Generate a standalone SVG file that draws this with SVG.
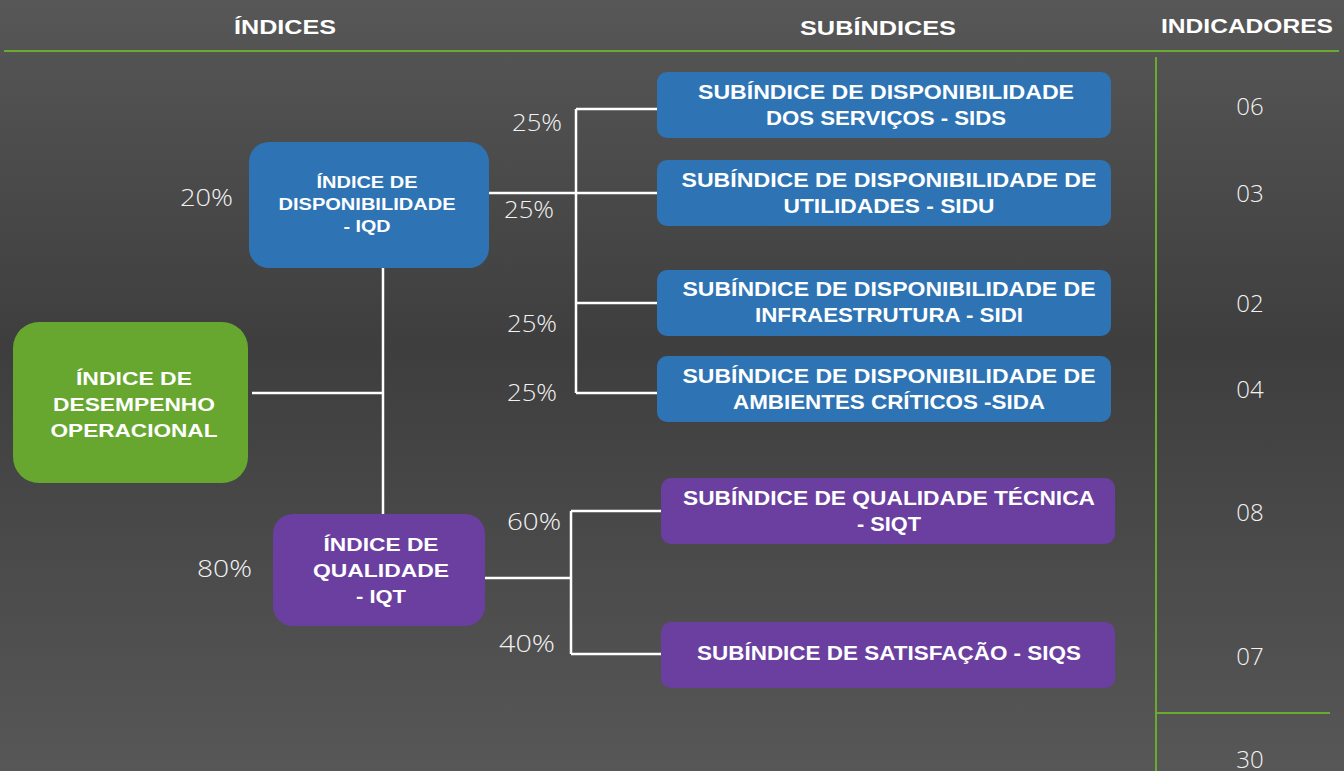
<svg xmlns="http://www.w3.org/2000/svg" width="1344" height="771" viewBox="0 0 1344 771">
<defs>
<linearGradient id="bg" x1="0" y1="0" x2="0" y2="1">
<stop offset="0" stop-color="#575757"/>
<stop offset="0.45" stop-color="#3e3e3e"/>
<stop offset="1" stop-color="#575757"/>
</linearGradient>
<style>
.hdr{font-family:"Liberation Sans",Arial,sans-serif;font-weight:bold;font-size:21px;fill:#ffffff;text-anchor:middle}
.bt{font-family:"Liberation Sans",Arial,sans-serif;font-weight:bold;fill:#ffffff;text-anchor:middle}
.pct{font-family:"Open Sans","Liberation Sans",sans-serif;font-weight:300;font-size:23px;fill:#f2f2f2}
.num{font-family:"Open Sans","Liberation Sans",sans-serif;font-weight:300;font-size:24px;fill:#f2f2f2;text-anchor:middle}
.blue{fill:#2e74b5}
.purple{fill:#6b3fa0}
.green{fill:#67a72f}
.conn{stroke:#ffffff;stroke-width:2.5;fill:none}
.gl{stroke:#6aab2f;stroke-width:2;fill:none}
</style>
</defs>
<rect x="0" y="0" width="1344" height="771" fill="url(#bg)"/>

<g id="headers">
<text class="hdr" x="285" y="34" textLength="102" lengthAdjust="spacingAndGlyphs">ÍNDICES</text>
<text class="hdr" x="878" y="35" textLength="156" lengthAdjust="spacingAndGlyphs">SUBÍNDICES</text>
<text class="hdr" x="1247" y="33" textLength="172" lengthAdjust="spacingAndGlyphs">INDICADORES</text>
</g>

<g id="grid">
<line class="gl" x1="4" y1="51" x2="1339" y2="51"/>
<line class="gl" x1="1156" y1="57" x2="1156" y2="771"/>
<line class="gl" x1="1156" y1="713" x2="1330" y2="713"/>
</g>

<g id="connectors">
<polyline class="conn" points="252,393 383,393"/>
<line class="conn" x1="383" y1="268" x2="383" y2="514"/>
<line class="conn" x1="489" y1="193" x2="657" y2="193"/>
<line class="conn" x1="576" y1="109" x2="576" y2="393"/>
<line class="conn" x1="576" y1="109" x2="657" y2="109"/>
<line class="conn" x1="576" y1="303" x2="657" y2="303"/>
<line class="conn" x1="576" y1="393" x2="657" y2="393"/>
<line class="conn" x1="485" y1="578" x2="571" y2="578"/>
<line class="conn" x1="571" y1="511" x2="571" y2="654"/>
<line class="conn" x1="571" y1="511" x2="661" y2="511"/>
<line class="conn" x1="571" y1="654" x2="661" y2="654"/>
</g>

<g id="percentages">
<text class="pct" x="180" y="206" textLength="53" lengthAdjust="spacingAndGlyphs">20%</text>
<text class="pct" x="197" y="577" textLength="55" lengthAdjust="spacingAndGlyphs">80%</text>
<text class="pct" x="512" y="131" textLength="50" lengthAdjust="spacingAndGlyphs">25%</text>
<text class="pct" x="504" y="218" textLength="50" lengthAdjust="spacingAndGlyphs">25%</text>
<text class="pct" x="507" y="332" textLength="50" lengthAdjust="spacingAndGlyphs">25%</text>
<text class="pct" x="507" y="401" textLength="50" lengthAdjust="spacingAndGlyphs">25%</text>
<text class="pct" x="507" y="530" textLength="54" lengthAdjust="spacingAndGlyphs">60%</text>
<text class="pct" x="499" y="652" textLength="56" lengthAdjust="spacingAndGlyphs">40%</text>
</g>

<g id="ido">
<rect class="green" x="13" y="322" width="235" height="161" rx="26"/>
<text class="bt" font-size="19" x="134" y="385" textLength="116" lengthAdjust="spacingAndGlyphs">ÍNDICE DE</text>
<text class="bt" font-size="19" x="134" y="411" textLength="162" lengthAdjust="spacingAndGlyphs">DESEMPENHO</text>
<text class="bt" font-size="19" x="134" y="437" textLength="167" lengthAdjust="spacingAndGlyphs">OPERACIONAL</text>
</g>

<g id="iqd">
<rect class="blue" x="249" y="142" width="240" height="126" rx="20"/>
<text class="bt" font-size="16" x="367" y="188" textLength="101" lengthAdjust="spacingAndGlyphs">ÍNDICE DE</text>
<text class="bt" font-size="16" x="367" y="210" textLength="177" lengthAdjust="spacingAndGlyphs">DISPONIBILIDADE</text>
<text class="bt" font-size="16" x="367" y="232" textLength="47" lengthAdjust="spacingAndGlyphs">- IQD</text>
</g>

<g id="iqt">
<rect class="purple" x="273" y="514" width="212" height="112" rx="20"/>
<text class="bt" font-size="19" x="381" y="551" textLength="115" lengthAdjust="spacingAndGlyphs">ÍNDICE DE</text>
<text class="bt" font-size="19" x="381" y="577" textLength="136" lengthAdjust="spacingAndGlyphs">QUALIDADE</text>
<text class="bt" font-size="19" x="381" y="603" textLength="50" lengthAdjust="spacingAndGlyphs">- IQT</text>
</g>

<g id="sids">
<rect class="blue" x="657" y="72" width="454" height="66" rx="10"/>
<text class="bt" font-size="20" x="886" y="99" textLength="376" lengthAdjust="spacingAndGlyphs">SUBÍNDICE DE DISPONIBILIDADE</text>
<text class="bt" font-size="20" x="886" y="125" textLength="240" lengthAdjust="spacingAndGlyphs">DOS SERVIÇOS - SIDS</text>
</g>

<g id="sidu">
<rect class="blue" x="657" y="160" width="454" height="66" rx="10"/>
<text class="bt" font-size="20" x="889" y="187" textLength="415" lengthAdjust="spacingAndGlyphs">SUBÍNDICE DE DISPONIBILIDADE DE</text>
<text class="bt" font-size="20" x="889" y="213" textLength="211" lengthAdjust="spacingAndGlyphs">UTILIDADES - SIDU</text>
</g>

<g id="sidi">
<rect class="blue" x="657" y="270" width="454" height="66" rx="10"/>
<text class="bt" font-size="20" x="889" y="296" textLength="413" lengthAdjust="spacingAndGlyphs">SUBÍNDICE DE DISPONIBILIDADE DE</text>
<text class="bt" font-size="20" x="889" y="322" textLength="268" lengthAdjust="spacingAndGlyphs">INFRAESTRUTURA - SIDI</text>
</g>

<g id="sida">
<rect class="blue" x="657" y="356" width="454" height="66" rx="10"/>
<text class="bt" font-size="20" x="889" y="383" textLength="413" lengthAdjust="spacingAndGlyphs">SUBÍNDICE DE DISPONIBILIDADE DE</text>
<text class="bt" font-size="20" x="889" y="409" textLength="312" lengthAdjust="spacingAndGlyphs">AMBIENTES CRÍTICOS -SIDA</text>
</g>

<g id="siqt">
<rect class="purple" x="661" y="478" width="454" height="66" rx="10"/>
<text class="bt" font-size="20" x="889" y="505" textLength="412" lengthAdjust="spacingAndGlyphs">SUBÍNDICE DE QUALIDADE TÉCNICA</text>
<text class="bt" font-size="20" x="889" y="531" textLength="64" lengthAdjust="spacingAndGlyphs">- SIQT</text>
</g>

<g id="siqs">
<rect class="purple" x="661" y="622" width="454" height="66" rx="10"/>
<text class="bt" font-size="20" x="889" y="660" textLength="384" lengthAdjust="spacingAndGlyphs">SUBÍNDICE DE SATISFAÇÃO - SIQS</text>
</g>

<g id="indicadores">
<text class="num" x="1250" y="115">06</text>
<text class="num" x="1250" y="202">03</text>
<text class="num" x="1250" y="312">02</text>
<text class="num" x="1250" y="398">04</text>
<text class="num" x="1250" y="521">08</text>
<text class="num" x="1250" y="665">07</text>
<text class="num" x="1250" y="768">30</text>
</g>
</svg>
